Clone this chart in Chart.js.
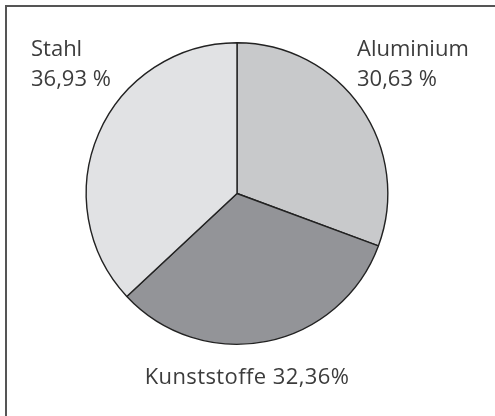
<!DOCTYPE html>
<html>
<head>
<meta charset="utf-8">
<script src="https://cdn.jsdelivr.net/npm/chart.js@4/dist/chart.umd.min.js"></script>
<style>
  html, body { margin: 0; padding: 0; background: #fff; }
  #wrap { position: relative; width: 495px; height: 416px; }
</style>
</head>
<body>
<div id="wrap"><canvas id="pie" width="495" height="416"></canvas></div>
<script>
// data (clockwise from 12 o'clock)
const materials = ['Aluminium', 'Kunststoffe', 'Stahl'];
const shares = [30.63, 32.36, 36.93];
const shareLabels = ['30,63 %', '32,36%', '36,93 %'];
const sliceColors = ['#c8c9cb', '#939498', '#e1e2e4'];

// frame + the text labels beside the slices
const labelPlugin = {
  id: 'labels',
  beforeDraw(chart) {
    const ctx = chart.ctx;
    ctx.save();
    ctx.strokeStyle = '#555';
    ctx.lineWidth = 2;
    ctx.beginPath();
    ctx.moveTo(6, 420);
    ctx.lineTo(6, 6);
    ctx.lineTo(500, 6);
    ctx.stroke();
    ctx.restore();
  },
  afterDraw(chart) {
    const ctx = chart.ctx;
    const arc = chart.getDatasetMeta(0).data[0];
    const cx = arc.x, cy = arc.y, r = arc.outerRadius;
    ctx.save();
    ctx.fillStyle = '#3c3c3c';
    ctx.font = '22px "Open Sans"';
    ctx.textBaseline = 'alphabetic';

    // Aluminium, top right
    ctx.textAlign = 'left';
    ctx.fillText(materials[0], cx + 120, cy - 138);
    ctx.fillText(shareLabels[0], cx + 120, cy - 108);

    // Stahl, top left
    ctx.fillText(materials[2], cx - 206, cy - 138);
    ctx.fillText(shareLabels[2], cx - 206, cy - 108);

    // Kunststoffe, below
    ctx.textAlign = 'center';
    ctx.letterSpacing = '0.4px';
    ctx.fillText(materials[1] + ' ' + shareLabels[1], cx + 10, cy + r + 40);
    ctx.restore();
  }
};

new Chart(document.getElementById('pie').getContext('2d'), {
  type: 'pie',
  data: {
    labels: materials,
    datasets: [{
      data: shares,
      backgroundColor: sliceColors,
      borderColor: '#222',
      borderWidth: 1.4,
      borderAlign: 'center'
    }]
  },
  options: {
    responsive: false,
    animation: false,
    rotation: 0,
    layout: { padding: { left: 85, right: 106, top: 42, bottom: 71 } },
    plugins: {
      legend: { display: false },
      tooltip: { enabled: false }
    }
  },
  plugins: [labelPlugin]
});
</script>
</body>
</html>
